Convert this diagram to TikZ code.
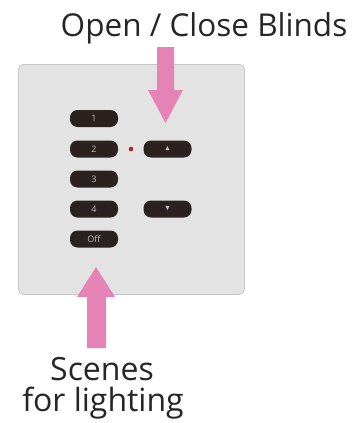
\documentclass[tikz,border=0pt]{standalone}
\usepackage{amssymb}
\usepackage{fontspec}
\setmainfont{Open Sans}
\begin{document}
\begin{tikzpicture}[x=1pt,y=-1pt,
  panel/.style={draw=black!22,fill=black!11,line width=0.8pt,rounded corners=5pt},
  btn/.style={fill=btncol,draw=none,rounded corners=7.5pt,minimum width=48pt,minimum height=17pt,inner sep=0pt,text=black!25,font=\fontsize{9}{9}\selectfont},
  parrow/.style={fill=pinkc,draw=none},
  lbl/.style={text=black!85,inner sep=0pt}
]
\definecolor{btncol}{HTML}{2B2220}
\definecolor{pinkc}{HTML}{E683B6}
\definecolor{dotc}{HTML}{B0241E}
\useasboundingbox (0,0) rectangle (352,423);
\node[panel,minimum width=226pt,minimum height=230pt,anchor=north west] (panel) at (18,64) {};
% buttons
\node[btn] (b1) at (94,118.5) {1};
\node[btn] (b2) at (94,149) {2};
\node[btn] (b3) at (94,179) {3};
\node[btn] (b4) at (94,209) {4};
\node[btn] (boff) at (94,239) {Off};
\node[btn] (bup) at (167.5,149) {\fontsize{7}{7}\selectfont$\blacktriangle$};
\node[btn] (bdn) at (167.5,209) {\fontsize{7}{7}\selectfont$\blacktriangledown$};
\fill[dotc] (131,149) circle (2.3pt);
\node[circle,inner sep=0pt,minimum size=0pt] (dot) at (131,149) {};
% labels
\node[lbl,font=\fontsize{31.5}{34}\selectfont,anchor=base] (top) at (204,36) {Open / Close Blinds};
\node[lbl,font=\fontsize{32}{34}\selectfont,anchor=base] (sc) at (102,380) {Scenes};
\node[lbl,font=\fontsize{32}{34}\selectfont,anchor=base] (fl) at (103,411) {for lighting};
% arrows
\fill[parrow] (157,47) -- (174,47) -- (174,90) -- (183,90) -- (165.5,123) -- (148,90) -- (157,90) -- cycle;
\fill[parrow] (87,348) -- (106,348) -- (106,297) -- (115,297) -- (96,267) -- (77,297) -- (87,297) -- cycle;
\end{tikzpicture}
\end{document}
